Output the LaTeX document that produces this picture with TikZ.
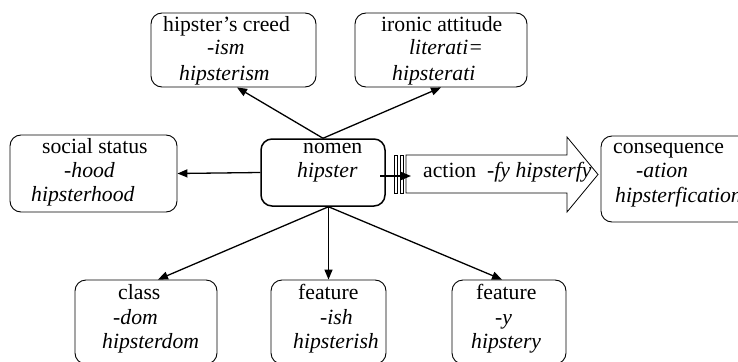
\documentclass[tikz,border=0pt]{standalone}
\usepackage{fontspec}
\setmainfont{Liberation Serif}
\usetikzlibrary{arrows.meta}
\begin{document}
\begin{tikzpicture}[x=1pt,y=-1pt,
  box/.style={draw=black,line width=0.9pt,rounded corners=11pt,inner sep=0pt},
  mainbox/.style={box,line width=1.5pt},
  txt/.style={anchor=base west,inner sep=0pt,font=\fontsize{21.7}{24.5}\selectfont},
  itx/.style={txt,font=\fontsize{21.7}{24.5}\selectfont\itshape},
  conn/.style={line width=1.3pt,-{Triangle[length=10pt,width=8pt]}},
  barrow/.style={draw=black,line width=0.8pt,fill=white}]
\useasboundingbox (0,0) rectangle (738,361);
\clip (0,0) rectangle (738,361);
% boxes
\node[box,minimum width=165pt,minimum height=74pt] (creed) at (233.5,50) {};
\node[box,minimum width=172pt,minimum height=74pt] (ironic) at (441,50) {};
\node[box,minimum width=167pt,minimum height=77pt] (social) at (93.5,173.5) {};
\node[mainbox,minimum width=124pt,minimum height=67pt] (nomen) at (323,172.5) {};
\node[box,minimum width=160pt,minimum height=86pt] (conseq) at (681,179) {};
\node[box,minimum width=142pt,minimum height=84pt] (class) at (146,322) {};
\node[box,minimum width=115pt,minimum height=84pt] (featish) at (328.5,322) {};
\node[box,minimum width=114pt,minimum height=84pt] (featy) at (509,322) {};
% block arrow
\draw[barrow] (406,155) -- (567,155) -- (567,137) -- (598,174.5) -- (567,212) -- (567,193) -- (406,193) -- cycle;
\draw[barrow] (394,155) rectangle (397,193);
\draw[barrow] (400,155) rectangle (403,193);
% texts
\node[txt] (t1a) at (163,31.5) {hipster’s creed};
\node[itx] (t1b) at (207,55) {-ism};
\node[itx] (t1c) at (179,80) {hipsterism};
\node[txt] (t2a) at (381,31.5) {ironic attitude};
\node[itx] (t2b) at (409,55) {literati=};
\node[itx] (t2c) at (392,80) {hipsterati};
\node[txt] (t3a) at (42,153.5) {social status};
\node[itx] (t3b) at (64,177.5) {-hood};
\node[itx] (t3c) at (31,201.5) {hipsterhood};
\node[txt] (t4a) at (303,153.5) {nomen};
\node[itx] (t4b) at (297,177.5) {hipster};
\node[txt] (t5a) at (423,177) {action};
\node[itx] (t5b) at (487,177) {-fy hipsterfy};
\node[txt] (t6a) at (613,153.5) {consequence};
\node[itx] (t6b) at (636,177.5) {-ation};
\node[itx] (t6c) at (615,202.5) {hipsterfication};
\node[txt] (t7a) at (118,299.5) {class};
\node[itx] (t7b) at (113,324) {-dom};
\node[itx] (t7c) at (102,348.5) {hipsterdom};
\node[txt] (t8a) at (298,299.5) {feature};
\node[itx] (t8b) at (320,324) {-ish};
\node[itx] (t8c) at (293,348.5) {hipsterish};
\node[txt] (t9a) at (476,299.5) {feature};
\node[itx] (t9b) at (495,324) {-y};
\node[itx] (t9c) at (471,348.5) {hipstery};
% connectors
\coordinate (a0) at (380,176);
\coordinate (a1) at (411,176);
\draw[conn] (nomen.north) -- ([xshift=3.5pt]creed.south);
\draw[conn] (nomen.north) -- (ironic.south);
\draw[conn] (nomen.west) -- (social.east);
\draw[conn] ([xshift=5.5pt]nomen.south) -- ([xshift=12pt]class.north);
\draw[conn] ([xshift=5.5pt]nomen.south) -- (featish.north);
\draw[conn] ([xshift=5.5pt]nomen.south) -- ([xshift=-7pt]featy.north);
\draw[conn] (a0) -- (a1);
\end{tikzpicture}
\end{document}
